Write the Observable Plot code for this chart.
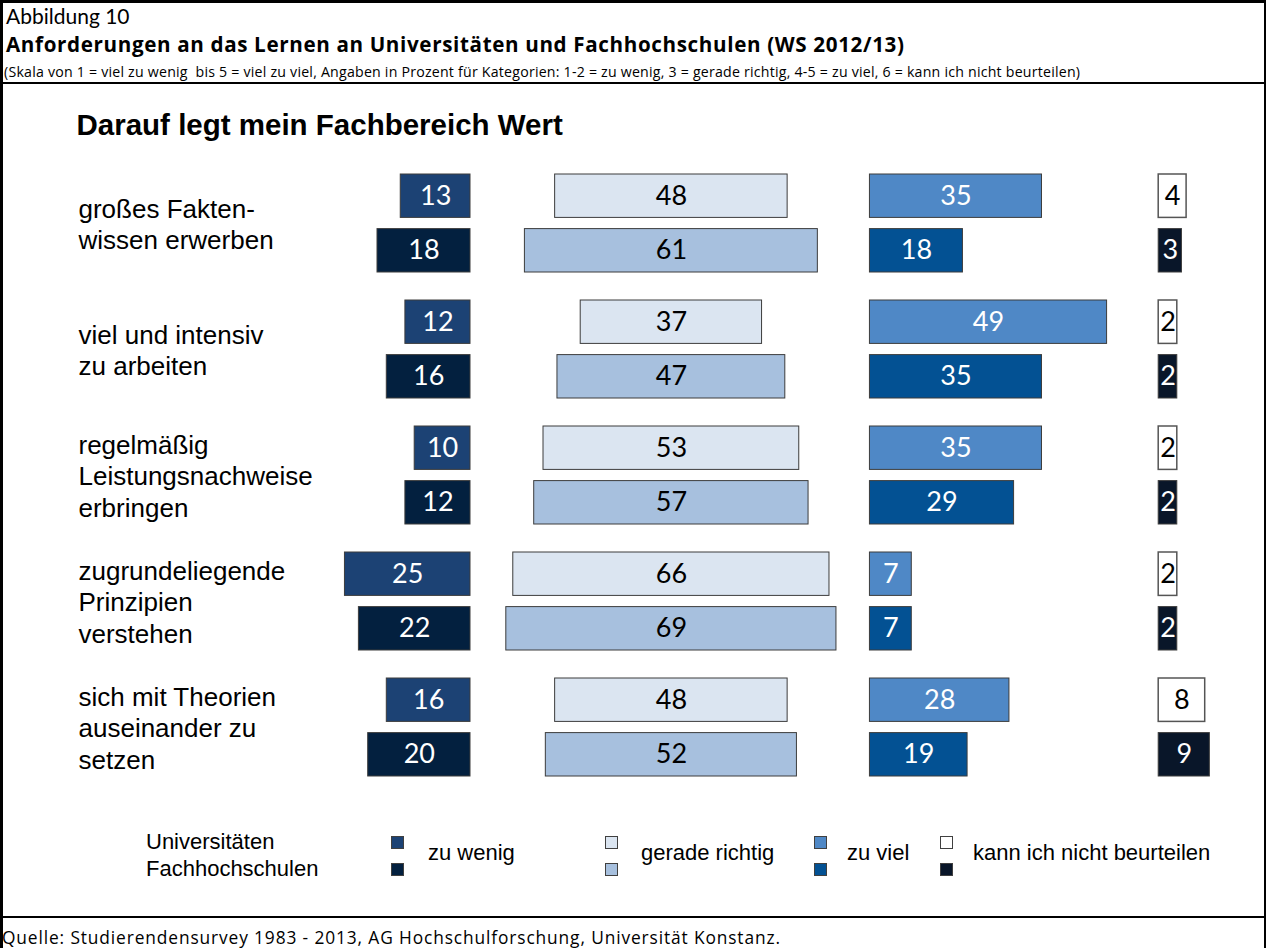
<!DOCTYPE html>
<html>
<head>
<meta charset="utf-8">
<script src="https://cdn.jsdelivr.net/npm/d3@7"></script>
<script src="https://cdn.jsdelivr.net/npm/@observablehq/plot@0.6"></script>
<style>
  body { margin: 0; background: #fff; }
  #page { position: relative; width: 1270px; height: 948px; overflow: hidden; }
  .hd { position: absolute; left: 6px; white-space: nowrap; font-family: "Open Sans", Lato, sans-serif; color: #000; }
  .lg { position: absolute; font-family: "Liberation Sans", Arial, sans-serif; font-size: 22px; color: #000; white-space: nowrap; line-height: 26px; }
  .sq { position: absolute; width: 13px; height: 13px; box-sizing: border-box; border: 1px solid #404040; }
</style>
</head>
<body>
<div id="page">
  <div style="position:absolute;left:0;top:0;width:1266px;height:948px;border-left:3px solid #000;border-right:2px solid #000;border-top:3px solid #000;box-sizing:border-box"></div>
  <div class="hd" id="h1" style="top:2px;font-size:21px;line-height:28px;font-family:Lato,'Open Sans',sans-serif">Abbildung 10</div>
  <div class="hd" id="h2" style="top:32px;font-size:19px;line-height:24px;font-weight:bold">Anforderungen an das Lernen an Universitäten und Fachhochschulen (WS 2012/13)</div>
  <div class="hd" id="h3" style="top:63px;font-size:13.5px;line-height:18px;left:4px">(Skala von 1 = viel zu wenig&nbsp; bis 5 = viel zu viel, Angaben in Prozent für Kategorien: 1-2 = zu wenig, 3 = gerade richtig, 4-5 = zu viel, 6 = kann ich nicht beurteilen)</div>
  <div style="position:absolute;left:0;top:82px;width:1266px;height:2px;background:#000"></div>
  <div id="chart" style="position:absolute;left:0;top:86px"></div>
  <div id="legend"></div>
  <div style="position:absolute;left:0;top:916px;width:1266px;height:2px;background:#000"></div>
  <div class="hd" id="ft" style="top:927px;left:2px;font-size:15px;line-height:20px">Quelle: Studierendensurvey 1983 - 2013, AG Hochschulforschung, Universität Konstanz.</div>
</div>
<script>
// ---- data ----
const categories = [
  "großes Fakten-\nwissen erwerben",
  "viel und intensiv\nzu arbeiten",
  "regelmäßig\nLeistungsnachweise\nerbringen",
  "zugrundeliegende\nPrinzipien\nverstehen",
  "sich mit Theorien\nauseinander zu\nsetzen"
];
const responses = ["zu wenig", "gerade richtig", "zu viel", "kann ich nicht beurteilen"];
const schools = ["Universitäten", "Fachhochschulen"];

const uniZuWenig = [13, 12, 10, 25, 16];
const uniGeradeRichtig = [48, 37, 53, 66, 48];
const uniZuViel = [35, 49, 35, 7, 28];
const uniKannNicht = [4, 2, 2, 2, 8];

const fhZuWenig = [18, 16, 12, 22, 20];
const fhGeradeRichtig = [61, 47, 57, 69, 52];
const fhZuViel = [18, 35, 29, 7, 19];
const fhKannNicht = [3, 2, 2, 2, 9];

const chartTitle = "Darauf legt mein Fachbereich Wert";

// ---- header/footer width fitting (part font size, part letter-spacing) ----
function fitWidth(id, target) {
  const el = document.getElementById(id);
  const size = parseFloat(el.style.fontSize);
  let w = el.getBoundingClientRect().width;
  el.style.fontSize = (size * Math.pow(target / w, 0.6)) + "px";
  w = el.getBoundingClientRect().width;
  const n = el.textContent.length;
  el.style.letterSpacing = ((target - w) / (n - 1)) + "px";
}
fitWidth("h2", 898);
fitWidth("h3", 1076);
fitWidth("ft", 778);

// ---- styles ----
const fillColors = {
  "Universitäten": ["#1c4274", "#dbe5f1", "#4f88c6", "#ffffff"],
  "Fachhochschulen": ["#03203f", "#a7c0de", "#035193", "#091629"]
};
const textColors = {
  "Universitäten": ["#fff", "#000", "#fff", "#000"],
  "Fachhochschulen": ["#fff", "#000", "#fff", "#fff"]
};

// ---- build rows ----
const seriesBySchool = {
  "Universitäten": [uniZuWenig, uniGeradeRichtig, uniZuViel, uniKannNicht],
  "Fachhochschulen": [fhZuWenig, fhGeradeRichtig, fhZuViel, fhKannNicht]
};
const rows = [];
for (const school of schools) {
  seriesBySchool[school].forEach((arr, r) => {
    arr.forEach((v, i) => rows.push({cat: categories[i], school, resp: r, v}));
  });
}

// layout of the four columns (in percent units)
const PX = 4.65;          // pixels per percentage point
const pad = 2;            // extra width of each box
const anchorWenig = 0;    // right edge of "zu wenig"
const centerGerade = 43.2;
const leftViel = 85.9;
const leftKann = 148.0;
function extent(d) {
  const w = d.v + pad;
  if (d.resp === 0) return [anchorWenig - w, anchorWenig];
  if (d.resp === 1) return [centerGerade - w / 2, centerGerade + w / 2];
  if (d.resp === 2) return [leftViel, leftViel + w];
  return [leftKann, leftKann + w];
}
const x1 = d => extent(d)[0];
const x2 = d => extent(d)[1];
const xm = d => (extent(d)[0] + extent(d)[1]) / 2;

const W = 1266, H = 730;
const uniRows = rows.filter(d => d.school === "Universitäten");
const fhRows = rows.filter(d => d.school === "Fachhochschulen");
const inset = 54.6;

const barOpts = (extra) => Object.assign({
  x1, x2, y: "cat",
  fill: d => fillColors[d.school][d.resp],
  stroke: d => d.resp === 3 && d.school === "Universitäten" ? "#555" : "#3c3c3c",
  strokeWidth: d => d.resp === 3 && d.school === "Universitäten" ? 1.5 : 1
}, extra);
const txtOpts = (extra) => Object.assign({
  x: xm, y: "cat", text: d => String(d.v),
  fill: d => textColors[d.school][d.resp],
  fontSize: 27, fontFamily: "Lato, 'Open Sans', sans-serif",
  textAnchor: "middle", lineAnchor: "middle"
}, extra);

const chart = Plot.plot({
  width: W, height: H,
  marginTop: 0, marginBottom: 0, marginLeft: 0, marginRight: 0,
  x: {domain: [-470 / PX, (W - 470) / PX], axis: null},
  y: {type: "band", domain: categories, range: [86.3, 691.3], paddingInner: 0.221, paddingOuter: 0, axis: null},
  style: {background: "transparent", overflow: "visible"},
  marks: [
    Plot.barX(uniRows, barOpts({insetBottom: inset})),
    Plot.barX(fhRows, barOpts({insetTop: inset})),
    Plot.text(uniRows, txtOpts({dy: -27.3})),
    Plot.text(fhRows, txtOpts({dy: 27.3})),
    Plot.text(categories, {
      y: d => d, text: d => d, frameAnchor: "left", dx: 78,
      textAnchor: "start", lineAnchor: "middle", lineHeight: 1.2,
      fontSize: 26, fontFamily: "'Liberation Sans', Arial, sans-serif", fill: "#000"
    }),
    Plot.text([chartTitle], {
      frameAnchor: "top-left", dx: 76, dy: 39, text: d => d,
      textAnchor: "start", lineAnchor: "middle",
      fontSize: 29.5, fontWeight: "bold", fontFamily: "'Liberation Sans', Arial, sans-serif", fill: "#000"
    })
  ]
});
document.getElementById("chart").appendChild(chart);

// ---- legend (below the SVG, inside the frame) ----
const legend = document.getElementById("legend");
const squareLeft = [391, 605, 814, 940];
const labelLeft = [428, 641, 847, 973];
const addDiv = (cls, style, text) => {
  const el = document.createElement("div");
  el.className = cls; el.setAttribute("style", style);
  if (text) el.textContent = text;
  legend.appendChild(el);
};
addDiv("lg", "left:146px;top:829px", schools[0]);
addDiv("lg", "left:146px;top:856px", schools[1]);
responses.forEach((r, k) => {
  addDiv("sq", `left:${squareLeft[k]}px;top:836px;background:${fillColors[schools[0]][k]}`);
  addDiv("sq", `left:${squareLeft[k]}px;top:863px;background:${fillColors[schools[1]][k]}`);
  addDiv("lg", `left:${labelLeft[k]}px;top:840px`, r);
});
</script>
</body>
</html>
